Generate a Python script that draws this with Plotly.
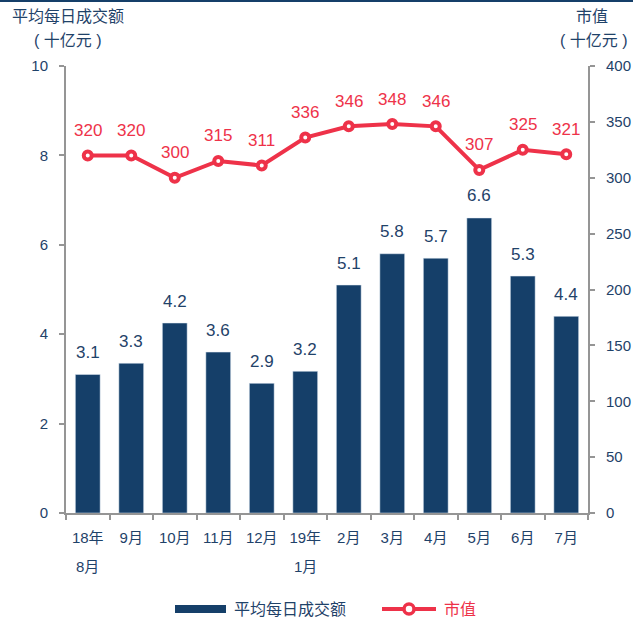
import plotly.graph_objects as go

categories = ["18年<br>8月", "9月", "10月", "11月", "12月", "19年<br>1月", "2月", "3月", "4月", "5月", "6月", "7月"]
turnover = [3.1, 3.35, 4.25, 3.6, 2.9, 3.17, 5.1, 5.8, 5.7, 6.6, 5.3, 4.4]
turnover_labels = ["3.1", "3.3", "4.2", "3.6", "2.9", "3.2", "5.1", "5.8", "5.7", "6.6", "5.3", "4.4"]
market_cap = [320, 320, 300, 315, 311, 336, 346, 348, 346, 307, 325, 321]
left_ticks = [0, 2, 4, 6, 8, 10]
right_ticks = [0, 50, 100, 150, 200, 250, 300, 350, 400]

BLUE = "#153F69"
RED = "#EE3249"
TXT = "#1F4269"
GRAY = "#959595"
FONT = "Liberation Sans, Noto Sans CJK SC"

# plot area in pixels: x 66..588, y 66..513
PW, PH = 522, 447
def px(x):
    return (x - 66) / PW
def py(y):
    return (513 - y) / PH

idx = list(range(len(categories)))
first_lines = [c.split("<br>")[0] for c in categories]
second_lines = [c.split("<br>")[1] if "<br>" in c else "" for c in categories]

fig = go.Figure()
fig.add_trace(go.Bar(
    x=idx, y=turnover, name="平均每日成交额",
    marker_color=BLUE, width=0.57, showlegend=False,
))
fig.add_trace(go.Scatter(
    x=idx, y=market_cap, name="市值", yaxis="y2",
    mode="lines+markers", showlegend=False,
    line=dict(color=RED, width=4),
    marker=dict(symbol="circle", size=8, color="white", line=dict(color=RED, width=4)),
    cliponaxis=False,
))

axis_common = dict(showgrid=False, zeroline=False, showline=True, linecolor=GRAY, linewidth=2,
                   ticks="outside", ticklen=5, tickcolor=GRAY, tickwidth=2,
                   tickfont=dict(color=TXT, size=15, family=FONT))

annotations = []
for i in idx:
    annotations.append(dict(x=i, y=turnover[i], xref="x", yref="y", text=turnover_labels[i],
                            showarrow=False, yshift=22, yanchor="middle",
                            font=dict(size=17, color=TXT)))
    annotations.append(dict(x=i, y=market_cap[i], xref="x", yref="y2", text=str(market_cap[i]),
                            showarrow=False, yshift=25, yanchor="middle",
                            font=dict(size=17, color=RED)))
    if second_lines[i]:
        annotations.append(dict(x=i, y=py(566), xref="x", yref="paper", text=second_lines[i],
                                showarrow=False, yanchor="middle",
                                font=dict(size=15, color=TXT)))

annotations += [
    dict(text="平均每日成交额", xref="paper", yref="paper", x=px(10), y=py(17), xanchor="left", yanchor="middle",
         showarrow=False, font=dict(size=16, color=TXT)),
    dict(text="( 十亿元 )", xref="paper", yref="paper", x=px(32), y=py(40), xanchor="left", yanchor="middle",
         showarrow=False, font=dict(size=16, color=TXT)),
    dict(text="市值", xref="paper", yref="paper", x=px(592), y=py(17), xanchor="center", yanchor="middle",
         showarrow=False, font=dict(size=16, color=TXT)),
    dict(text="( 十亿元 )", xref="paper", yref="paper", x=px(594), y=py(40), xanchor="center", yanchor="middle",
         showarrow=False, font=dict(size=16, color=TXT)),
    dict(text="平均每日成交额", xref="paper", yref="paper", x=px(232), y=py(609), xanchor="left", yanchor="middle",
         showarrow=False, font=dict(size=16, color=TXT)),
    dict(text="市值", xref="paper", yref="paper", x=px(442), y=py(609), xanchor="left", yanchor="middle",
         showarrow=False, font=dict(size=16, color=RED)),
]

shapes = [
    dict(type="line", xref="paper", yref="paper", x0=px(0), x1=px(633), y0=py(1), y1=py(1),
         line=dict(color=BLUE, width=2)),
    dict(type="rect", xref="paper", yref="paper", x0=px(175), x1=px(226), y0=py(613), y1=py(605),
         fillcolor=BLUE, line=dict(width=0)),
    dict(type="line", xref="paper", yref="paper", x0=px(382), x1=px(436), y0=py(609), y1=py(609),
         line=dict(color=RED, width=4)),
    dict(type="circle", xref="paper", yref="paper", x0=px(404), x1=px(414), y0=py(614), y1=py(604),
         fillcolor="white", line=dict(color=RED, width=3.5)),
]

x_axis = dict(axis_common)
x_axis.update(ticks="", tickmode="array", tickvals=idx, ticktext=first_lines,
              range=[-0.5, len(categories) - 0.5], ticklabelstandoff=10,
              minor=dict(tickmode="array", tickvals=[i - 0.5 for i in idx] + [len(idx) - 0.5],
                         ticks="outside", ticklen=5, tickcolor=GRAY, tickwidth=2, showgrid=False))

fig.update_layout(
    width=633, height=618,
    margin=dict(l=66, r=45, t=66, b=105, autoexpand=False),
    plot_bgcolor="white", paper_bgcolor="white",
    font=dict(family=FONT, color=TXT),
    xaxis=x_axis,
    yaxis=dict(**axis_common, range=[0, 10], tickvals=left_ticks, ticklabelstandoff=8),
    yaxis2=dict(**axis_common, range=[0, 400], tickvals=right_ticks, overlaying="y", side="right",
                ticklabelstandoff=8),
    showlegend=False,
    annotations=annotations,
    shapes=shapes,
)
fig.write_html("out.html", config={"displayModeBar": False},
               post_script="document.body.style.margin='0';document.body.style.overflow='hidden';")
